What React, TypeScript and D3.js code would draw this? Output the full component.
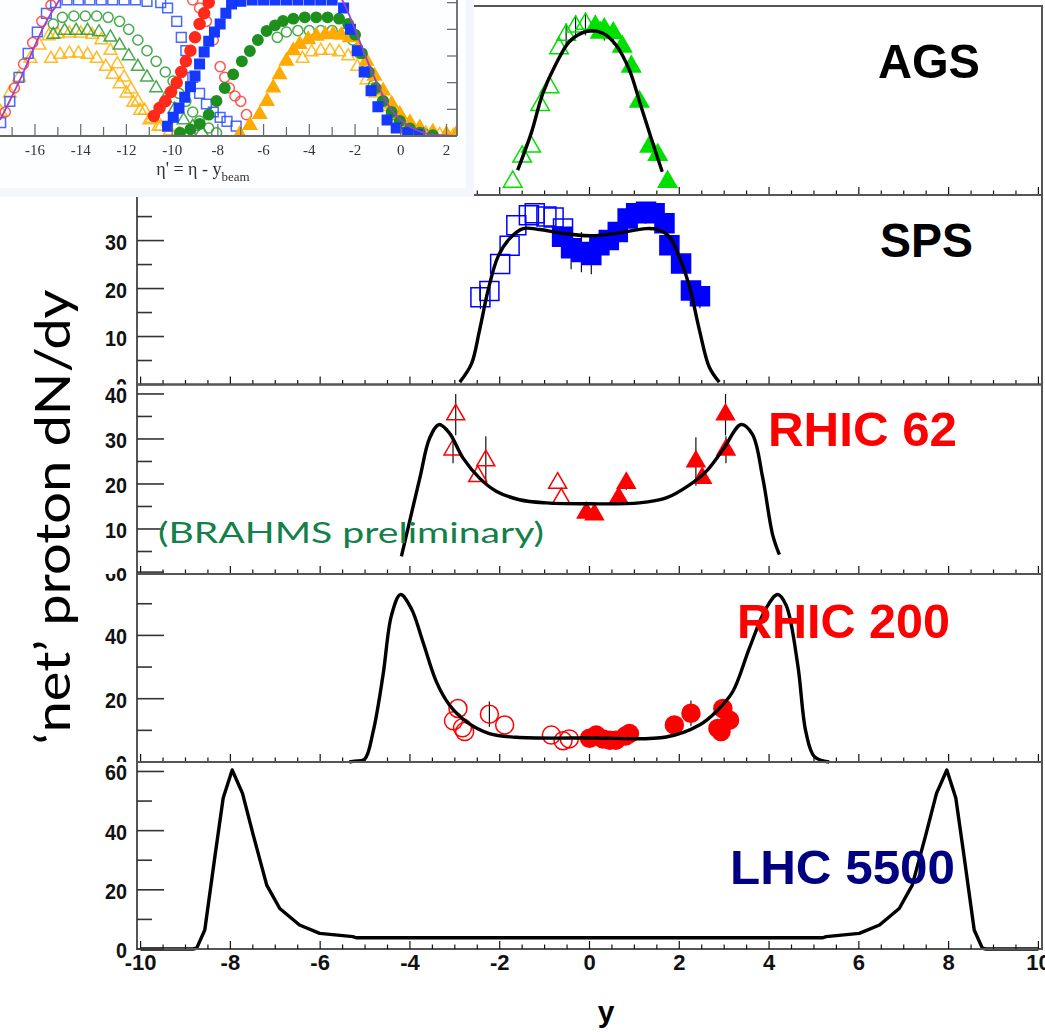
import React, { useEffect, useRef } from 'react';
import * as d3 from 'd3';

// net-proton rapidity distributions, AGS -> LHC
// points are [y, dN/dy, error]

const xLabelTicks = [-10, -8, -6, -4, -2, 0, 2, 4, 6, 8, 10];

const agsCurve = [[-1.60, 13.2], [-1.30, 32.6], [-1.04, 53.8], [-0.74, 69.7], [-0.45, 81.1], [-0.15, 85.9], [0.04, 86.9], [0.30, 85.6], [0.59, 79.4], [0.89, 66.1], [1.15, 46.7], [1.41, 27.4], [1.62, 12.3]];
const agsOpen = [[-1.71, 7.0, 0], [-1.50, 20.3, 0], [-1.30, 25.6, 0], [-1.10, 47.6, 0], [-0.89, 57.0, 0], [-0.68, 77.6, 0], [-0.52, 84.7, 6], [-0.31, 89.1, 6], [-0.09, 90.5, 6]];
const agsFilled = [[0.13, 89.1, 6], [0.24, 85.9, 0], [0.33, 87.7, 6], [0.53, 85.6, 6], [0.73, 78.5, 0], [0.93, 67.9, 0], [1.11, 49.4, 0], [1.34, 25.6, 0], [1.52, 21.2, 0], [1.74, 7.0, 0]];

const spsCurve = [[-2.89, 0.5], [-2.63, 4.3], [-2.45, 11.3], [-2.26, 19.6], [-2.04, 26.6], [-1.78, 30.4], [-1.48, 32.5], [-1.11, 32.3], [-0.67, 31.6], [0, 31.0], [0.59, 31.5], [1.26, 32.5], [1.52, 32.3], [1.78, 30.8], [2.0, 26.6], [2.23, 20.3], [2.45, 11.3], [2.67, 3.6], [2.89, 0.5]];
const spsOpen = [[-2.43, 18.2, 2.5], [-2.23, 19.5, 0], [-1.99, 25.1, 0], [-1.78, 28.9, 0], [-1.63, 33.2, 0], [-1.35, 35.3, 0], [-1.22, 35.7, 0], [-0.96, 35.0, 0], [-0.80, 34.8, 0], [-0.59, 32.5, 0]];
const spsFilled = [[-0.61, 30.8, 0], [-0.41, 28.4, 4.4], [-0.18, 27.6, 4.2], [0.04, 27.0, 4.0], [0.22, 29.0, 0], [0.43, 30.1, 0], [0.63, 31.8, 0], [0.85, 34.6, 0], [1.04, 35.7, 0], [1.26, 36.0, 0], [1.45, 35.7, 0], [1.67, 33.6, 0], [1.78, 29.0, 0], [2.04, 25.2, 0], [2.26, 19.6, 0], [2.46, 18.4, 2.5]];

const rhic62Curve = [[-4.19, 3.9], [-3.78, 21.3], [-3.56, 30.2], [-3.35, 33.2], [-3.12, 31.3], [-2.82, 25.8], [-2.45, 21.3], [-2.08, 18.4], [-1.56, 16.5], [-0.96, 15.8], [0, 15.6], [1.11, 15.8], [1.71, 16.9], [2.23, 19.8], [2.60, 22.8], [2.97, 27.6], [3.38, 33.2], [3.63, 31.0], [3.86, 21.3], [4.08, 8.7], [4.23, 4.3]];
const rhic62Open = [[-2.98, 35.4, 4.6], [-3.04, 27.6, 3], [-2.31, 25.2, 5.4], [-2.49, 21.7, 0], [-0.71, 20.2, 0], [-0.63, 16.7, 0]];
const rhic62Filled = [[-0.07, 13.6, 0], [0.11, 13.2, 0], [0.65, 16.9, 0], [0.82, 20.2, 1.5], [2.37, 25.0, 5.4], [2.51, 21.3, 0], [3.04, 27.6, 3], [3.03, 35.4, 4.6]];

const rhic200Curve = [[-5.35, 0], [-5.23, 0.3], [-5.01, 0.9], [-4.82, 9.6], [-4.60, 27.4], [-4.41, 46.4], [-4.21, 52.9], [-3.97, 48.5], [-3.71, 37.9], [-3.41, 25.3], [-3.12, 18.0], [-2.74, 12.7], [-2.23, 9.0], [-1.63, 7.8], [0, 7.6], [1.71, 7.9], [2.45, 11.7], [2.82, 15.9], [3.19, 22.2], [3.56, 35.9], [3.93, 48.5], [4.19, 52.9], [4.38, 49.5], [4.64, 30.6], [4.82, 9.5], [5.01, 1.7], [5.34, 0]];
const rhic200Open = [[-2.93, 16.9, 0], [-3.03, 13.0, 0], [-2.83, 10.8, 0], [-2.78, 9.6, 0], [-2.23, 15.1, 4], [-1.89, 11.7, 0], [-0.85, 8.5, 0], [-0.59, 6.7, 0], [-0.45, 7.3, 0]];
const rhic200Filled = [[0, 7.5, 0], [0.15, 8.5, 0], [0.3, 7.3, 0], [0.45, 6.9, 0], [0.59, 6.9, 0], [0.8, 8.2, 0], [0.89, 9.0, 0], [1.89, 11.7, 0], [2.26, 15.4, 4], [2.97, 16.9, 0], [2.86, 10.6, 0], [3.12, 13.2, 0], [2.93, 9.6, 0]];

const lhcCurve = [[-10, 0], [-8.83, 0], [-8.75, 0.3], [-8.57, 6.4], [-8.34, 31.8], [-8.16, 51], [-7.96, 60.5], [-7.73, 52.6], [-7.49, 38.5], [-7.19, 21.6], [-6.90, 13.7], [-6.46, 8.1], [-6.01, 5.3], [-5.27, 4.2], [-5.2, 3.8], [5.2, 3.8], [5.27, 4.2], [6.01, 5.3], [6.46, 8.1], [6.90, 13.7], [7.19, 21.6], [7.49, 38.5], [7.73, 52.6], [7.96, 60.5], [8.16, 51], [8.34, 31.8], [8.57, 6.4], [8.75, 0.3], [8.83, 0], [10, 0]];

// y tick values per panel
const spsTicks = [0, 10, 20, 30];
const spsMinor = [5, 15, 25, 35];
const rhic62Ticks = [0, 10, 20, 30, 40];
const rhic62Minor = [5, 15, 25, 35];
const rhic200Ticks = [0, 20, 40, 60];
const rhic200Minor = [10, 30, 50];
const lhcTicks = [0, 20, 40, 60];
const lhcMinor = [10, 30, 50];

// inset: dN/deta' vs eta' = eta - y_beam
const insetTickLabels = [-16, -14, -12, -10, -8, -6, -4, -2, 0, 2];
const insetYTicks = [1, 2, 3, 4, 5];
const insetBlueOpen = [[-17.5, 0.5], [-17.1, 1.3], [-16.7, 2.2], [-16.3, 3.1], [-15.9, 3.9], [-15.5, 4.6], [-15.1, 5.0], [-14.6, 5.1], [-14.1, 5.1], [-13.6, 5.1], [-13.1, 5.1], [-12.6, 5.1], [-12.1, 5.1], [-11.6, 5.1], [-11.1, 5.05], [-10.5, 5.0], [-10.2, 4.8], [-9.8, 4.3], [-9.6, 3.7], [-9.4, 3.2], [-9.1, 2.2], [-8.8, 1.6], [-8.5, 1.2], [-8.2, 0.9], [-7.9, 0.7], [-7.6, 0.55], [-7.2, 0.37]];
const insetRedOpen = [[-17.3, 0.9], [-16.9, 1.8], [-16.5, 2.7], [-16.1, 3.5], [-15.7, 4.3], [-15.3, 4.9], [-9.1, 5.1], [-8.8, 4.8], [-8.5, 4.3], [-8.2, 3.6], [-7.9, 2.6], [-7.7, 2.2], [-7.5, 1.8], [-7.25, 1.5], [-7.0, 1.3], [-6.75, 0.8]];
const insetGreenOpen = [[-15.2, 4.2], [-14.8, 4.45], [-14.3, 4.5], [-13.8, 4.5], [-13.3, 4.5], [-12.8, 4.45], [-12.3, 4.3], [-11.9, 4.0], [-11.5, 3.6], [-11.1, 3.2], [-10.7, 2.8], [-10.3, 2.4], [-9.96, 2.06], [-9.7, 1.6], [-9.4, 1.3], [-9.1, 0.9], [-8.8, 0.56], [-8.4, 0.3], [-8.06, 0.12]];
const insetGreenOpenLow = [[-15.2, 3.8], [-14.7, 3.95], [-14.2, 3.95], [-13.7, 3.95], [-13.2, 3.9], [-12.7, 3.7], [-12.3, 3.4], [-11.9, 3.0], [-11.5, 2.6], [-11.1, 2.2], [-10.7, 1.8], [-10.3, 1.4], [-9.9, 1.0], [-9.5, 0.6], [-9.1, 0.35], [-8.7, 0.15]];
const insetGreenOpenRight = [[-5.4, 3.7], [-5.0, 3.9], [-4.5, 3.95], [-4.0, 3.95], [-3.5, 3.95], [-3.0, 3.95], [-2.5, 3.85], [-2.1, 3.6], [-1.8, 3.1], [-1.5, 2.5], [-1.2, 1.9], [-0.8, 1.3], [-0.4, 0.8], [0.0, 0.5], [0.5, 0.25], [1.0, 0.1]];
const insetOrangeOpen = [[-17.5, 0.9], [-17.1, 1.6], [-16.7, 2.2], [-16.2, 2.9], [-15.8, 3.4], [-15.4, 3.75], [-15.0, 3.82], [-14.5, 3.85], [-14.0, 3.85], [-13.5, 3.8], [-13.1, 3.6], [-12.7, 3.2], [-12.4, 2.7], [-12.1, 2.2], [-11.8, 1.75], [-11.5, 1.3], [-11.2, 0.95], [-10.9, 0.65], [-10.5, 0.35], [-10.1, 0.18], [-9.7, 0.08], [-9.3, 0.03]];
const insetOrangeOpenLow = [[-15.3, 2.9], [-14.9, 3.05], [-14.5, 3.1], [-14.1, 3.1], [-13.7, 3.05], [-13.3, 2.9], [-12.9, 2.6], [-12.6, 2.3], [-12.3, 1.95], [-12.0, 1.6], [-11.7, 1.25], [-11.4, 0.95], [-11.0, 0.6], [-10.6, 0.35]];
const insetOrangeOpenRight = [[-4.3, 2.9], [-3.9, 3.15], [-3.5, 3.2], [-3.1, 3.2], [-2.7, 3.15], [-2.3, 3.0], [-1.9, 2.6], [-1.5, 2.1], [-1.1, 1.6], [-0.7, 1.1], [-0.3, 0.7], [0.1, 0.4], [0.6, 0.2], [1.1, 0.1], [1.7, 0.05], [2.3, 0.02]];
const insetRedFilled = [[-10.8, 0.75], [-10.55, 1.05], [-10.3, 1.3], [-10.05, 1.65], [-9.8, 2.0], [-9.6, 2.4], [-9.4, 2.8], [-9.2, 3.2], [-9.0, 3.7], [-8.8, 4.2], [-8.6, 4.6], [-8.4, 5.0]];
const insetBlueFilled = [[-10.2, 0.37], [-9.95, 0.7], [-9.7, 1.05], [-9.45, 1.45], [-9.2, 1.85], [-9.0, 2.25], [-8.8, 2.7], [-8.6, 3.15], [-8.4, 3.55], [-8.15, 3.9], [-7.9, 4.2], [-7.65, 4.6], [-7.4, 4.95], [-7.0, 5.05], [-6.5, 5.1], [-6.0, 5.1], [-5.5, 5.1], [-5.0, 5.1], [-4.5, 5.1], [-4.0, 5.1], [-3.5, 5.1], [-3.0, 5.1], [-2.5, 4.8], [-2.2, 4.0], [-1.9, 3.2], [-1.6, 2.4], [-1.3, 1.7], [-1.0, 1.1], [-0.6, 0.6], [-0.2, 0.3], [0.3, 0.12], [0.8, 0.05]];
const insetGreenFilled = [[-9.66, 0.12], [-9.2, 0.25], [-8.79, 0.45], [-8.4, 0.8], [-8.06, 1.31], [-7.7, 1.8], [-7.33, 2.31], [-6.95, 2.8], [-6.6, 3.19], [-6.25, 3.6], [-5.87, 3.94], [-5.5, 4.15], [-5.15, 4.31], [-4.7, 4.4], [-4.2, 4.45], [-3.7, 4.45], [-3.2, 4.45], [-2.7, 4.4], [-2.3, 4.2], [-2.0, 3.8], [-1.7, 3.1], [-1.4, 2.4], [-1.1, 1.8], [-0.77, 1.31], [-0.4, 0.9], [-0.04, 0.56], [0.4, 0.28], [0.83, 0.12], [1.4, 0.03]];
const insetOrangeFilled = [[-7.04, 0.06], [-6.6, 0.4], [-6.17, 0.81], [-5.85, 1.3], [-5.58, 1.81], [-5.3, 2.3], [-5.0, 2.81], [-4.7, 3.2], [-4.42, 3.44], [-4.05, 3.62], [-3.69, 3.75], [-3.3, 3.8], [-2.96, 3.81], [-2.6, 3.78], [-2.23, 3.69], [-1.85, 3.3], [-1.5, 2.81], [-1.15, 2.25], [-0.77, 1.69], [-0.4, 1.2], [-0.04, 0.81], [0.4, 0.5], [0.83, 0.31], [1.4, 0.15], [2.0, 0.06], [2.4, 0.03]];
const insetLineLeft = [[-17.53, 0.6], [-17.0, 1.5], [-16.5, 2.4], [-16.0, 3.4], [-15.5, 4.3], [-15.0, 5.0], [-14.8, 5.3]];
const insetLineRight = [[-2.7, 5.3], [-2.5, 5.0], [-2.0, 4.0], [-1.5, 2.9], [-1.0, 1.9], [-0.5, 1.1], [0, 0.6], [0.5, 0.3], [1.0, 0.12], [1.5, 0.04], [2.4, 0]];

const SANS = "'Liberation Sans', Arial, Helvetica, sans-serif";
const SERIF = "'Liberation Serif', 'DejaVu Serif', serif";
const HUMAN = "Lato, 'Open Sans', sans-serif";
const GREEN = '#00e000';
const BLUE = '#0000ff';
const RED = '#ff0000';

const X0 = 137;
const X1 = 1042;
const INSET_W = 474;
const INSET_H = 197;

const xScale = d3.scaleLinear().domain([-10.08, 10.08]).range([X0, X1]);

const symbolOf = (shape: string) =>
  shape === 'triangle' ? d3.symbolTriangle : shape === 'square' ? d3.symbolSquare : d3.symbolCircle;

const panels = [
  { id: 'ags', top: 6, bottom: 195, yMax: 100, major: [], minor: [], curve: agsCurve, smooth: true,
    sets: [
      { pts: agsOpen, shape: 'triangle', filled: false, color: GREEN, size: 150 },
      { pts: agsFilled, shape: 'triangle', filled: true, color: GREEN, size: 150 },
    ],
    label: 'AGS', labelColor: '#000', labelX: 980, labelY: 78, labelW: 102 },
  { id: 'sps', top: 195, bottom: 384.5, yMax: 39.5, major: spsTicks, minor: spsMinor, curve: spsCurve, smooth: true,
    sets: [
      { pts: spsOpen, shape: 'square', filled: false, color: BLUE, size: 361 },
      { pts: spsFilled, shape: 'square', filled: true, color: BLUE, size: 361 },
    ],
    label: 'SPS', labelColor: '#000', labelX: 973, labelY: 257, labelW: 93 },
  { id: 'rhic62', top: 384.5, bottom: 574, yMax: 42.1, major: rhic62Ticks, minor: rhic62Minor, curve: rhic62Curve, smooth: true,
    sets: [
      { pts: rhic62Open, shape: 'triangle', filled: false, color: RED, size: 140 },
      { pts: rhic62Filled, shape: 'triangle', filled: true, color: RED, size: 140 },
    ],
    label: 'RHIC 62', labelColor: RED, labelX: 957, labelY: 446, labelW: 189 },
  { id: 'rhic200', top: 574, bottom: 762, yMax: 59.4, major: rhic200Ticks, minor: rhic200Minor, curve: rhic200Curve, smooth: true,
    sets: [
      { pts: rhic200Open, shape: 'circle', filled: false, color: RED, size: 254 },
      { pts: rhic200Filled, shape: 'circle', filled: true, color: RED, size: 254 },
    ],
    label: 'RHIC 200', labelColor: RED, labelX: 950, labelY: 638, labelW: 213 },
  { id: 'lhc', top: 762, bottom: 949, yMax: 63.2, major: lhcTicks, minor: lhcMinor, curve: lhcCurve, smooth: false,
    sets: [],
    label: 'LHC 5500', labelColor: '#000080', labelX: 955, labelY: 884, labelW: 225 },
];

const insetSeries = [
  { pts: insetOrangeOpenLow, shape: 'triangle', filled: false, color: '#ffb000', size: 70 },
  { pts: insetOrangeOpen, shape: 'triangle', filled: false, color: '#ffb000', size: 70 },
  { pts: insetOrangeOpenRight, shape: 'triangle', filled: false, color: '#ffb000', size: 70 },
  { pts: insetGreenOpenLow, shape: 'triangle', filled: false, color: '#2a9a2a', size: 70 },
  { pts: insetGreenOpen, shape: 'circle', filled: false, color: '#2a9a2a', size: 80 },
  { pts: insetGreenOpenRight, shape: 'circle', filled: false, color: '#2a9a2a', size: 80 },
  { pts: insetBlueOpen, shape: 'square', filled: false, color: '#2b4cff', size: 95 },
  { pts: insetRedOpen, shape: 'circle', filled: false, color: '#ff3b2f', size: 80 },
  { pts: insetOrangeFilled, shape: 'triangle', filled: true, color: '#ffaa00', size: 80 },
  { pts: insetGreenFilled, shape: 'circle', filled: true, color: '#1f8f1f', size: 85 },
  { pts: insetBlueFilled, shape: 'square', filled: true, color: '#1238ff', size: 90 },
  { pts: insetRedFilled, shape: 'circle', filled: true, color: '#ff2a1a', size: 95 },
];

const drawPanel = (svg, defs, p, last) => {
  const y = d3.scaleLinear().domain([0, p.yMax]).range([p.bottom, p.top]);
  const g = svg.append('g').attr('class', p.id);

  // error bars, markers, model curve
  p.sets.forEach(s => {
    g.append('g').selectAll('line')
      .data(s.pts.filter(d => d[2] > 0))
      .join('line')
      .attr('x1', d => xScale(d[0])).attr('x2', d => xScale(d[0]))
      .attr('y1', d => y(d[1] - d[2])).attr('y2', d => y(d[1] + d[2]))
      .attr('stroke', '#111').attr('stroke-width', 1.2);
  });
  p.sets.forEach(s => {
    g.append('g').selectAll('path')
      .data(s.pts)
      .join('path')
      .attr('d', d3.symbol().type(symbolOf(s.shape)).size(s.size)())
      .attr('transform', d => `translate(${xScale(d[0])},${y(d[1])})`)
      .attr('fill', s.filled ? s.color : 'none')
      .attr('stroke', s.color)
      .attr('stroke-width', 1.5);
  });
  const line = d3.line()
    .x(d => xScale(d[0]))
    .y(d => y(d[1]))
    .curve(p.smooth ? d3.curveCatmullRom.alpha(0.5) : d3.curveLinear);
  g.append('path').datum(p.curve)
    .attr('d', line)
    .attr('fill', 'none').attr('stroke', '#000').attr('stroke-width', 3.4)
    .attr('stroke-linejoin', 'round');

  // frame
  g.append('rect')
    .attr('x', X0).attr('y', p.top)
    .attr('width', X1 - X0).attr('height', p.bottom - p.top)
    .attr('fill', 'none').attr('stroke', '#555').attr('stroke-width', 2);

  // x ticks pointing up
  g.append('g').selectAll('line')
    .data(d3.range(-10, 10.001, 0.5))
    .join('line')
    .attr('x1', d => xScale(d)).attr('x2', d => xScale(d))
    .attr('y1', p.bottom)
    .attr('y2', d => p.bottom - (Math.abs(d % 2) < 1e-9 ? 8 : 4.5))
    .attr('stroke', '#111').attr('stroke-width', 1.2);

  // y ticks pointing right
  g.append('g').selectAll('line')
    .data([...p.major.map(v => [v, 27]), ...p.minor.map(v => [v, 15])])
    .join('line')
    .attr('x1', X0).attr('x2', d => X0 + d[1])
    .attr('y1', d => y(d[0])).attr('y2', d => y(d[0]))
    .attr('stroke', '#333').attr('stroke-width', 1.6);

  // tick labels, cut at the pad edge
  const clipId = `clip-${p.id}`;
  defs.append('clipPath').attr('id', clipId)
    .append('rect').attr('x', 0).attr('y', p.top)
    .attr('width', 1045).attr('height', last ? 1032 - p.top : p.bottom - p.top);
  const lab = g.append('g').attr('clip-path', `url(#${clipId})`)
    .attr('font-family', SANS).attr('font-weight', 'bold').attr('fill', '#111');
  lab.selectAll('text.yl')
    .data(p.major)
    .join('text')
    .attr('class', 'yl')
    .attr('x', 127).attr('y', d => y(d) + 9)
    .attr('text-anchor', 'end').attr('font-size', 22)
    .attr('textLength', d => String(d).length * 11)
    .attr('lengthAdjust', 'spacingAndGlyphs')
    .text(d => d);
  if (last) {
    lab.selectAll('text.xl')
      .data(xLabelTicks)
      .join('text')
      .attr('class', 'xl')
      .attr('x', d => xScale(d)).attr('y', p.bottom + 21)
      .attr('text-anchor', 'middle').attr('font-size', 22)
      .text(d => d);
  }

  // panel name
  svg.append('text')
    .attr('x', p.labelX).attr('y', p.labelY)
    .attr('text-anchor', 'end')
    .attr('font-family', SANS).attr('font-weight', 'bold').attr('font-size', 49)
    .attr('textLength', p.labelW).attr('lengthAdjust', 'spacingAndGlyphs')
    .attr('fill', p.labelColor)
    .text(p.label);
};

const drawInset = (svg, defs) => {
  const ix = d3.scaleLinear().domain([-17.53, 2.46]).range([0, 457]);
  const iy = d3.scaleLinear().domain([0, 5.1]).range([136, 0]);

  defs.append('filter').attr('id', 'soft')
    .append('feGaussianBlur').attr('stdDeviation', 0.7);
  defs.append('clipPath').attr('id', 'inset-clip')
    .append('rect').attr('x', 0).attr('y', 0).attr('width', 457).attr('height', 136);

  const g = svg.append('g');
  g.append('rect').attr('x', 0).attr('y', 0).attr('width', INSET_W).attr('height', INSET_H).attr('fill', '#f3f7fb');
  g.append('rect').attr('x', 0).attr('y', 0).attr('width', 466).attr('height', 188).attr('fill', '#fdfeff');

  const body = g.append('g').attr('filter', 'url(#soft)');
  const plot = body.append('g').attr('clip-path', 'url(#inset-clip)');
  insetSeries.forEach(s => {
    plot.append('g').selectAll('path')
      .data(s.pts)
      .join('path')
      .attr('d', d3.symbol().type(symbolOf(s.shape)).size(s.size)())
      .attr('transform', d => `translate(${ix(d[0])},${iy(d[1])})`)
      .attr('fill', s.filled ? s.color : 'none')
      .attr('stroke', s.color)
      .attr('stroke-width', 1.5)
      .attr('opacity', s.filled ? 1 : 0.85);
  });
  const line = d3.line().x(d => ix(d[0])).y(d => iy(d[1])).curve(d3.curveMonotoneX);
  [insetLineLeft, insetLineRight].forEach(pts => {
    plot.append('path').datum(pts).attr('d', line)
      .attr('fill', 'none').attr('stroke', '#9b40d0').attr('stroke-width', 1.8);
  });

  // axes
  body.append('line').attr('x1', 0).attr('x2', 457).attr('y1', 136).attr('y2', 136)
    .attr('stroke', '#666').attr('stroke-width', 1.8);
  body.append('line').attr('x1', 457).attr('x2', 457).attr('y1', 0).attr('y2', 136)
    .attr('stroke', '#666').attr('stroke-width', 1.8);
  body.append('g').selectAll('line')
    .data(d3.range(-17, 2.001, 1))
    .join('line')
    .attr('x1', d => ix(d)).attr('x2', d => ix(d))
    .attr('y1', 136).attr('y2', d => (d % 2 === 0 ? 124 : 127))
    .attr('stroke', '#666').attr('stroke-width', 1.2);
  body.append('g').selectAll('line')
    .data(insetYTicks)
    .join('line')
    .attr('x1', 457).attr('x2', 447)
    .attr('y1', d => iy(d)).attr('y2', d => iy(d))
    .attr('stroke', '#666').attr('stroke-width', 1.2);
  body.append('g').selectAll('text')
    .data(insetTickLabels)
    .join('text')
    .attr('x', d => ix(d)).attr('y', 155)
    .attr('text-anchor', 'middle')
    .attr('font-family', SERIF).attr('font-size', 15).attr('fill', '#333')
    .text(d => d);
  const title = body.append('text')
    .attr('x', 203).attr('y', 175)
    .attr('text-anchor', 'middle')
    .attr('font-family', SERIF).attr('font-size', 18).attr('fill', '#333');
  title.append('tspan').text("\u03b7' = \u03b7 - y");
  title.append('tspan').attr('font-size', 13).attr('dy', 6).text('beam');
};

const App = () => {
  const chartRef = useRef(null);

  useEffect(() => {
    const svg = d3.select(chartRef.current);
    svg.selectAll('*').remove();
    const defs = svg.append('defs');

    svg.append('rect').attr('width', 1045).attr('height', 1032).attr('fill', '#fff');
    panels.forEach((p, i) => drawPanel(svg, defs, p, i === panels.length - 1));
    drawInset(svg, defs);

    svg.append('text')
      .attr('x', 158).attr('y', 543)
      .attr('font-family', HUMAN).attr('font-size', 29)
      .attr('fill', '#13804a')
      .attr('textLength', 386).attr('lengthAdjust', 'spacingAndGlyphs')
      .text('(BRAHMS preliminary)');

    svg.append('text')
      .attr('transform', 'translate(70,517) rotate(-90)')
      .attr('text-anchor', 'middle')
      .attr('font-family', HUMAN).attr('font-size', 48)
      .attr('fill', '#000')
      .attr('textLength', 455).attr('lengthAdjust', 'spacingAndGlyphs')
      .text('\u2018net\u2019 proton dN/dy');

    svg.append('text')
      .attr('x', 606).attr('y', 1022)
      .attr('text-anchor', 'middle')
      .attr('font-family', SANS).attr('font-weight', 'bold').attr('font-size', 30)
      .attr('fill', '#000')
      .text('y');
  }, []);

  return (
    <svg
      ref={chartRef}
      width={1045}
      height={1032}
      viewBox="0 0 1045 1032"
      style={{ position: 'absolute', left: 0, top: 0, display: 'block' }}
    />
  );
};

export default App;
